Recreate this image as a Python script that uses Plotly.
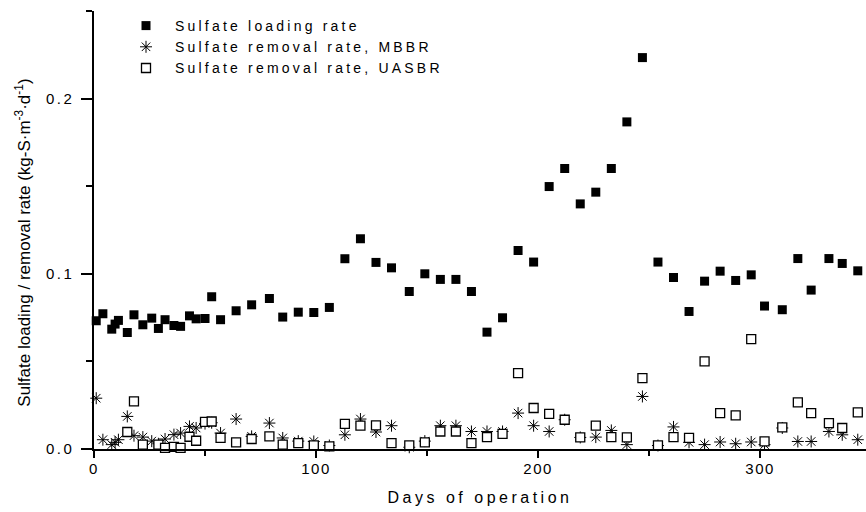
import plotly.graph_objects as go

days = [1, 4, 8, 9.5, 11, 15, 18, 22, 26, 29, 32, 36, 39, 43, 46, 50, 53, 57, 64, 71,
        79, 85, 92, 99, 106, 113, 120, 127, 134, 142, 149, 156, 163, 170, 177, 184, 191, 198, 205, 212,
        219, 226, 233, 240, 247, 254, 261, 268, 275, 282, 289, 296, 302, 310, 317, 323, 331, 337, 344]

loading_rate = [0.0732, 0.0772, 0.0684, 0.0713, 0.0734, 0.0665, 0.0766, 0.0709, 0.0747, 0.0688,
                0.0738, 0.0705, 0.0700, 0.0760, 0.0743, 0.0745, 0.0869, 0.0738, 0.0789, 0.0823,
                0.0859, 0.0753, 0.0781, 0.0779, 0.0808, 0.1086, 0.1200, 0.1065, 0.1034, 0.0899,
                0.1000, 0.0968, 0.0968, 0.0899, 0.0667, 0.0749, 0.1133, 0.1067, 0.1498, 0.1601,
                0.1399, 0.1466, 0.1601, 0.1867, 0.2234, 0.1067, 0.0979, 0.0785, 0.0958, 0.1015,
                0.0962, 0.0994, 0.0816, 0.0795, 0.1087, 0.0907, 0.1087, 0.1059, 0.1017]

removal_mbbr = [0.0290, 0.0053, 0.0025, 0.0038, 0.0053, 0.0186, 0.0076, 0.0068, 0.0045, 0.0030,
                0.0057, 0.0082, 0.0091, 0.0129, 0.0120, 0.0145, 0.0150, 0.0091, 0.0171, 0.0072,
                0.0148, 0.0063, 0.0045, 0.0043, 0.0020, 0.0081, 0.0171, 0.0097, 0.0133, 0.0010,
                0.0045, 0.0133, 0.0133, 0.0100, 0.0100, 0.0100, 0.0205, 0.0133, 0.0100, 0.0167,
                0.0066, 0.0068, 0.0106, 0.0025, 0.0300, 0.0020, 0.0126, 0.0038, 0.0025, 0.0040,
                0.0030, 0.0040, 0.0025, 0.0120, 0.0043, 0.0043, 0.0100, 0.0081, 0.0053]

removal_uasbr = [None, None, None, None, None, 0.0097, 0.0272, 0.0025, None, 0.0025,
                 0.0006, 0.0012, 0.0006, 0.0070, 0.0047, 0.0155, 0.0157, 0.0063, 0.0038, 0.0057,
                 0.0072, 0.0025, 0.0034, 0.0021, 0.0015, 0.0143, 0.0133, 0.0135, 0.0034, 0.0021,
                 0.0038, 0.0100, 0.0100, 0.0034, 0.0068, 0.0086, 0.0433, 0.0234, 0.0200, 0.0167,
                 0.0066, 0.0133, 0.0068, 0.0066, 0.0405, 0.0021, 0.0068, 0.0063, 0.0500, 0.0205,
                 0.0192, 0.0627, 0.0043, 0.0123, 0.0266, 0.0205, 0.0148, 0.0120, 0.0209]

series_names = ["Sulfate loading rate", "Sulfate removal rate, MBBR", "Sulfate removal rate, UASBR"]
x_ticks = [0, 100, 200, 300]
y_ticks = [0.0, 0.1, 0.2]

FONT = "Liberation Sans, Arial, sans-serif"

fig = go.Figure()
fig.add_trace(go.Scatter(
    x=days, y=loading_rate, mode="markers", name=series_names[0], legendgroup="a",
    marker=dict(symbol="square", size=9, color="black", line=dict(width=0)),
    cliponaxis=False))
fig.add_trace(go.Scatter(
    x=days, y=removal_mbbr, mode="markers", name=series_names[1], legendgroup="b",
    marker=dict(symbol="asterisk-open", size=10, color="black", line=dict(width=1, color="black")),
    cliponaxis=False))
fig.add_trace(go.Scatter(
    x=days, y=removal_uasbr, mode="markers", name=series_names[2], legendgroup="c",
    marker=dict(symbol="square", size=9, color="white", line=dict(width=1.3, color="black")),
    cliponaxis=False))

W, H = 866, 512
L, R, T, B = 94, 0, 11, 63
PW, PH = W - L - R, H - T - B

fig.update_layout(
    width=W, height=H,
    margin=dict(l=L, r=R, t=T, b=B, autoexpand=False),
    paper_bgcolor="white", plot_bgcolor="white",
    font=dict(family=FONT, size=15, color="black"),
    showlegend=True,
    legend=dict(x=(117 - L) / PW, y=1.0 + 1 / PH, xanchor="left", yanchor="top",
                bgcolor="rgba(0,0,0,0)", borderwidth=0, tracegroupgap=0,
                font=dict(size=14, family=FONT), itemwidth=48),
    xaxis=dict(range=[0, 347.7], tickvals=x_ticks, ticktext=[str(v) for v in x_ticks],
               showgrid=False, zeroline=False, showline=True, linecolor="black", linewidth=1.5,
               ticks="outside", ticklen=7, tickwidth=1.5, tickcolor="black",
               minor=dict(dtick=50, ticks="outside", ticklen=5, tickwidth=1.5, tickcolor="black", showgrid=False),
               tickfont=dict(size=15), ticklabelstandoff=-2,
               title=dict(text="Days of operation", font=dict(size=16), standoff=16)),
    yaxis=dict(range=[0, 0.25], tickvals=y_ticks, ticktext=["0.0", "0.1", "0.2"],
               showgrid=False, zeroline=False, showline=True, linecolor="black", linewidth=1.5,
               ticks="outside", ticklen=11, tickwidth=1.5, tickcolor="black",
               minor=dict(dtick=0.05, ticks="outside", ticklen=6, tickwidth=1.5, tickcolor="black", showgrid=False),
               tickfont=dict(size=15), ticklabelstandoff=4),
    annotations=[dict(
        text="Sulfate loading / removal rate (kg-S·m<sup>-3</sup>·d<sup>-1</sup>)",
        xref="paper", yref="paper", x=(23 - L) / PW, y=(449.3 - 243) / PH,
        xanchor="center", yanchor="middle", textangle=-90, showarrow=False,
        font=dict(size=17, family=FONT))],
)

post = """
document.body.style.margin = '0';
document.body.style.padding = '0';
var gd = document.getElementById('{plot_id}');
function sp(){
  gd.querySelectorAll('.legend .scrollbox, .legend').forEach(function(e){e.removeAttribute('clip-path');});
  gd.querySelectorAll('.legendtext').forEach(function(e){e.setAttribute('letter-spacing','3.2px');});
  gd.querySelectorAll('.xtitle').forEach(function(e){e.setAttribute('letter-spacing','3.5px');});
  gd.querySelectorAll('.xtick text').forEach(function(e){e.setAttribute('letter-spacing','1.5px');});
  gd.querySelectorAll('.ytick text').forEach(function(e){e.setAttribute('letter-spacing','2.5px');});
}
sp();
gd.on('plotly_afterplot', sp);
"""

fig.write_html("out.html", post_script=post, config={"displayModeBar": False})
